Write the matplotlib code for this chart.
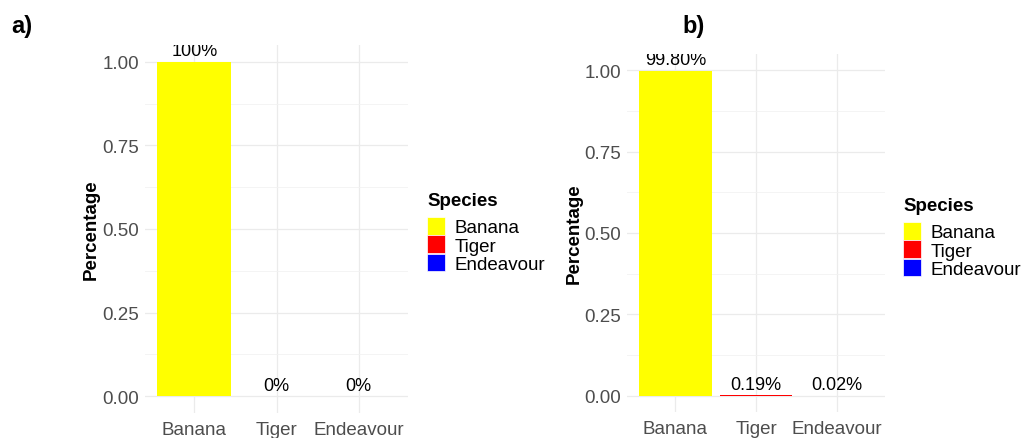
import matplotlib
matplotlib.use('Agg')
import matplotlib.pyplot as plt
from matplotlib.patches import Rectangle
from matplotlib.transforms import offset_copy
import numpy as np

plt.rcParams['font.family'] = ['Liberation Sans', 'DejaVu Sans']

species = ['Banana', 'Tiger', 'Endeavour']
species_colors = ['#FFFF00', '#FF0000', '#0000FF']
pct_a = [1.0, 0.0, 0.0]
labels_a = ['100%', '0%', '0%']
pct_b = [0.998, 0.0019, 0.0002]
labels_b = ['99.80%', '0.19%', '0.02%']
yticks = [0.0, 0.25, 0.50, 0.75, 1.00]
ytick_labels = ['0.00', '0.25', '0.50', '0.75', '1.00']
yminor = [0.125, 0.375, 0.625, 0.875]

W, H = 1023, 439


def px_box(x0, y0, x1, y1):
    # pixel box (top-left origin) -> figure fraction rect
    return [x0 / W, (H - y1) / H, (x1 - x0) / W, (y1 - y0) / H]


def panel(fig, rect, values, labels, tag, tag_xy, legend_xy):
    ax = fig.add_axes(rect)
    x = np.arange(1, len(species) + 1)
    ax.bar(x, values, width=0.9, color=species_colors, linewidth=0, zorder=2)
    above = offset_copy(ax.transData, fig=fig, y=6.5, units='dots')
    for xi, v, lab in zip(x, values, labels):
        ax.text(xi, v, lab, transform=above, ha='center', va='baseline',
                fontsize=13, color='black', clip_on=True, zorder=3)
    ax.set_xlim(0.4, 3.6)
    ax.set_ylim(-0.05, 1.05)
    ax.set_xticks(x)
    ax.set_xticklabels(species)
    ax.set_yticks(yticks)
    ax.set_yticklabels(ytick_labels)
    ax.set_yticks(yminor, minor=True)
    ax.tick_params(axis='both', which='both', length=0, labelsize=13.5, labelcolor='#4D4D4D')
    ax.tick_params(axis='x', pad=6)
    ax.tick_params(axis='y', pad=4)
    ax.grid(True, which='major', color='#EBEBEB', linewidth=0.9, zorder=0)
    ax.grid(True, which='minor', axis='y', color='#F2F2F2', linewidth=0.6, zorder=0)
    ax.set_axisbelow(True)
    for s in ax.spines.values():
        s.set_visible(False)
    ax.set_ylabel('Percentage', fontsize=13.5, fontweight='bold')
    ax.yaxis.set_label_coords(-0.171, 0.5)

    fig.text(tag_xy[0] / W, 1 - tag_xy[1] / H, tag, fontsize=17, fontweight='bold',
             ha='center', va='center')

    # legend
    lx, ly = legend_xy
    fig.text(lx / W, 1 - ly / H, 'Species', fontsize=13.5, fontweight='bold',
             ha='left', va='top')
    key = 17.5
    top = ly + 25
    for i, (name, col) in enumerate(zip(species, species_colors)):
        y0 = top + i * 18.3
        fig.add_artist(Rectangle((lx / W, 1 - (y0 + key) / H), key / W, key / H,
                                 transform=fig.transFigure, facecolor=col,
                                 edgecolor='white', linewidth=0.5))
        fig.text((lx + 28) / W, 1 - (y0 + key / 2) / H, name, fontsize=13.5,
                 ha='left', va='center_baseline', color='black')
    return ax


fig = plt.figure(figsize=(W / 100, H / 100), dpi=100)
panel(fig, px_box(145, 46, 408, 414), pct_a, labels_a, 'a)', (22, 27), (427, 193))
panel(fig, px_box(627, 55, 885, 413), pct_b, labels_b, 'b)', (694, 26), (903, 198))
fig.savefig('out.png', dpi=100)
